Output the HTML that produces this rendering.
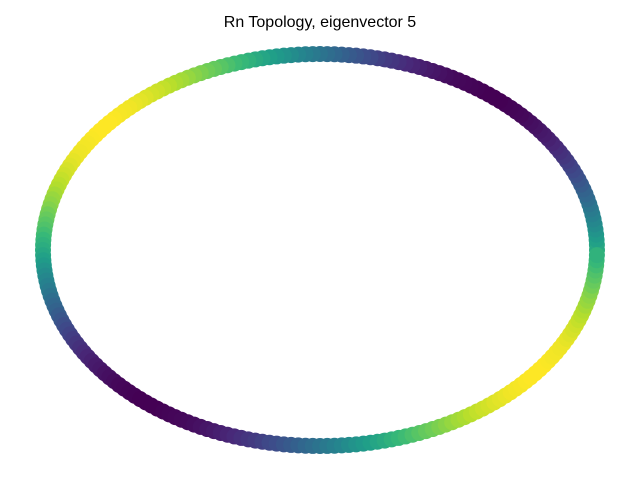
<!DOCTYPE html>
<html><head><meta charset="utf-8"><style>
html,body{margin:0;padding:0;background:#fff;}
svg{display:block;}
</style></head><body>
<svg id="chart" width="640" height="480" xmlns="http://www.w3.org/2000/svg">
<rect width="640" height="480" fill="#fff"/>
<text x="320" y="27" text-anchor="middle" font-family="'Liberation Sans', sans-serif" font-size="16" fill="#000">Rn Topology, eigenvector 5</text>
<g id="nodes"></g>
</svg>
<script>
const segA = [0.24,0.19,0.14,0.09,0.03,-0.02,-0.07,-0.12,-0.17,-0.22,-0.28,-0.33,-0.37,-0.42,-0.47,-0.52,-0.56,-0.60,-0.64,-0.68,-0.72,-0.75,-0.79,-0.82,-0.85,-0.87,-0.90,-0.92,-0.94,-0.96,-0.97,-0.98,-0.99,-1.00,-1.00,-1.00,-1.00,-0.99,-0.98,-0.97,-0.96,-0.95,-0.93,-0.91,-0.88,-0.86,-0.83,-0.80,-0.77,-0.73,-0.69,-0.66,-0.62,-0.57,-0.53,-0.48,-0.44,-0.39,-0.34,-0.29];
const segB = [-0.24,-0.19,-0.14,-0.09,-0.03,0.02,0.07,0.12,0.17,0.22,0.28,0.33,0.37,0.42,0.47,0.52,0.56,0.60,0.64,0.68,0.72,0.75,0.79,0.82,0.85,0.87,0.90,0.92,0.94,0.96,0.97,0.98,0.99,1.00,1.00,1.00,1.00,0.99,0.98,0.97,0.96,0.95,0.93,0.91,0.88,0.86,0.83,0.80,0.77,0.73,0.69,0.66,0.62,0.57,0.53,0.48,0.44,0.39,0.34,0.29];
const nodeValues = segA.concat(segB, segA, segB);

const viridis = [[68,1,84],[72,40,120],[62,74,137],[49,104,142],[38,130,142],[31,158,137],[53,183,121],[109,205,89],[180,222,44],[253,231,37]];
function colorFor(t){
  t=Math.max(0,Math.min(1,t))*(viridis.length-1);
  const i=Math.min(Math.floor(t),viridis.length-2), f=t-i;
  const a=viridis[i], b=viridis[i+1];
  return 'rgb('+a.map((v,k)=>Math.round(v+(b[k]-v)*f)).join(',')+')';
}
const cx=320, cy=250, rx=277, ry=196, nodeR=8;
const vmin=Math.min(...nodeValues), vmax=Math.max(...nodeValues);
function xPos(i){return cx+rx*Math.cos(2*Math.PI*i/nodeValues.length);}
function yPos(i){return cy-ry*Math.sin(2*Math.PI*i/nodeValues.length);}
const g=document.getElementById('nodes');
const ns='http://www.w3.org/2000/svg';
nodeValues.forEach((v,i)=>{
  const c=document.createElementNS(ns,'circle');
  c.setAttribute('cx',xPos(i).toFixed(2));
  c.setAttribute('cy',yPos(i).toFixed(2));
  c.setAttribute('r',nodeR);
  c.setAttribute('fill',colorFor((v-vmin)/(vmax-vmin)));
  
  
  g.appendChild(c);
});
</script>
</body></html>
